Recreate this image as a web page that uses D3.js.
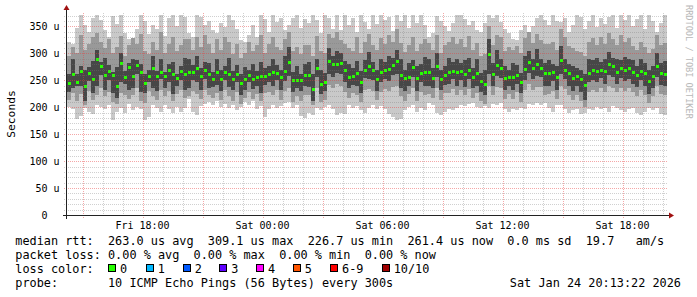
<!DOCTYPE html>
<html><head>
<meta charset="utf-8"/>
<title>SmokePing latency</title>
<script src="https://d3js.org/d3.v7.min.js"></script>
<style>
  body { margin: 0; padding: 0; background: #fff; }
  svg { display: block; font-family: 'DejaVu Sans Mono', monospace; }
  .tick-label { font-size: 10px; fill: #000; }
  .legend { font-size: 11.85px; fill: #000; white-space: pre; }
</style>
</head>
<body>
<div id="chart"></div>
<script>
// time window: 30 hours ending Sat Jan 24 20:13:22, one slot = 12 minutes
const startTime = new Date(2026, 0, 23, 14, 13, 22);
const endTime = new Date(2026, 0, 24, 20, 13, 22);
const slotMinutes = 12;

// median rtt (us)
const median = [
  245,262,247,267,240,263,252,290,276,260,268,259,240,282,256,275,258,279,265,245,258,272,258,265,258,269,262,255,267,262,
  265,266,272,258,270,261,253,266,252,265,262,252,262,245,252,259,253,256,258,258,262,265,264,257,268,284,250,251,250,259,
  259,234,272,243,247,286,281,281,283,270,257,258,264,246,270,277,269,253,265,270,271,278,285,260,254,257,274,254,264,266,
  265,254,276,253,259,266,268,265,268,262,270,256,263,248,244,298,262,279,273,254,257,256,260,246,271,284,273,281,273,264,
  264,265,257,288,269,264,254,258,252,241,264,270,268,270,267,281,277,266,273,270,272,266,260,267,263,249,258,277,264,262
];
// smoke: max / min of the 10 pings
const maxRtt = [
  322,318,348,371,352,340,366,372,362,344,330,370,355,372,338,326,324,346,371,360,336,352,346,372,332,365,371,350,372,368,
  337,330,371,368,352,360,343,338,356,349,371,362,346,325,322,334,352,331,371,364,340,371,358,366,344,352,365,371,348,364,
  356,371,362,338,371,366,346,371,343,372,352,366,340,371,358,345,371,354,371,362,368,342,371,360,371,348,371,356,371,352,
  331,338,370,360,350,342,356,371,372,364,352,360,343,340,356,371,366,372,358,346,338,327,325,344,352,340,350,366,371,362,
  352,371,360,358,366,340,352,371,368,345,360,371,349,366,355,368,371,348,371,362,371,350,364,371,346,371,360,340,356,371
];
const minRtt = [
  201,196,178,184,198,192,188,204,200,196,204,176,192,198,190,206,194,200,196,176,182,204,198,192,204,196,190,200,192,198,
  216,192,186,202,206,210,204,212,200,206,198,204,194,200,210,204,212,196,202,182,196,204,198,202,208,210,198,204,184,180,
  190,186,198,194,200,204,196,186,190,188,204,198,202,194,190,198,204,196,202,196,188,182,176,178,194,200,204,192,198,194,
  207,204,189,186,192,196,194,198,205,202,206,207,200,198,202,199,206,204,207,196,192,196,194,198,196,206,204,208,204,207,
  198,192,204,205,196,190,194,196,188,190,196,194,200,196,198,192,202,198,194,192,196,198,190,186,192,198,194,198,188,186
];
// smoke: middle pings (upper / lower)
const midHi = [
  296,312,300,334,306,318,330,338,322,310,326,300,312,332,296,316,328,318,336,304,298,322,306,340,300,318,330,304,316,326,
  326,306,330,312,334,318,300,326,306,330,322,298,318,292,300,322,304,316,334,300,318,330,312,306,326,340,304,312,298,316,
  316,296,332,304,300,336,328,340,324,318,310,304,330,300,322,336,316,306,328,318,334,322,346,320,302,316,330,304,318,326,
  320,306,334,300,316,322,330,318,326,312,332,306,320,296,298,350,316,334,330,304,312,306,314,300,328,340,320,336,324,318,
  318,322,306,346,330,314,310,304,302,296,322,328,316,330,318,338,326,316,334,322,328,314,306,322,312,300,308,334,316,320
];
const midLo = [
  214,226,212,224,204,230,214,222,236,220,228,210,206,226,222,216,222,236,212,208,230,220,214,232,220,230,212,224,232,218,
  220,230,224,216,232,222,218,226,214,232,220,212,228,206,218,228,216,224,212,226,228,222,232,214,230,236,210,220,212,222,
  222,204,236,210,214,242,236,244,240,228,218,226,222,210,232,234,230,214,228,234,230,238,240,220,212,224,236,212,228,222,
  224,218,236,214,226,226,234,222,232,222,234,218,226,212,206,240,222,238,236,216,224,216,228,210,232,244,232,238,238,222,
  224,230,216,240,234,222,214,222,212,200,228,232,228,236,228,240,236,228,236,230,236,228,220,232,222,208,220,240,224,222
];
// smoke: pings next to the median (upper / lower)
const innerHi = [
  262,290,262,276,270,274,286,306,284,292,278,266,275,300,268,282,290,288,280,262,270,296,268,290,266,280,284,262,276,292,
  290,278,296,272,284,282,266,290,270,276,292,268,278,262,274,270,280,268,284,272,276,290,278,270,296,312,266,276,262,280,
  284,262,290,270,264,310,296,304,300,286,280,272,286,268,288,302,284,270,290,284,296,292,306,290,270,282,288,276,280,294,
  290,272,300,270,276,292,284,290,282,288,292,272,290,264,270,326,282,306,290,276,270,282,278,264,296,304,290,308,290,282,
  288,280,276,314,290,280,276,272,270,262,290,288,292,284,290,302,292,290,288,294,290,288,276,290,282,270,276,300,282,286
];
const innerLo = [
  228,236,240,240,212,248,226,240,260,232,250,226,218,246,244,232,236,262,228,226,246,236,230,252,236,246,224,240,250,232,
  236,250,246,232,252,236,238,242,230,250,238,232,246,222,232,246,234,240,226,242,246,240,250,232,248,258,228,236,230,240,
  238,212,256,224,230,262,256,264,262,246,236,242,240,226,254,252,250,230,246,252,248,260,262,236,230,240,256,230,246,240,
  240,236,256,232,242,244,252,240,250,238,252,236,240,228,222,262,240,258,254,232,240,232,244,226,250,264,252,258,256,240,
  240,248,232,262,252,240,230,240,228,214,246,250,246,254,244,260,256,244,254,248,252,244,238,250,240,224,236,256,242,240
];

const yTicks = [0, 50, 100, 150, 200, 250, 300, 350];
const legendRows = [
  "median rtt:  263.0 us avg  309.1 us max  226.7 us min  261.4 us now  0.0 ms sd  19.7   am/s",
  "packet loss: 0.00 % avg  0.00 % max  0.00 % min  0.00 % now",
  "loss color:",
  "probe:       10 ICMP Echo Pings (56 Bytes) every 300s"
];
const lossLabels = ["0", "1", "2", "3", "4", "5", "6-9", "10/10"];
const lossColors = ["#26ff00", "#00b8ff", "#0059ff", "#5e00ff", "#ff00ff", "#ff5500", "#ff0000", "#a00000"];
const stamp = "Sat Jan 24 20:13:22 2026";

const W = 697, H = 297;
const plot = {left: 67, right: 667, top: 13, bottom: 215};

const svg = d3.select("#chart").append("svg")
  .attr("width", W).attr("height", H);

const x = d3.scaleTime().domain([startTime, endTime]).range([plot.left, plot.right]);
const y = d3.scaleLinear().domain([0, 375]).range([plot.bottom, plot.top]);

const slots = median.map((m, i) => ({
  t0: d3.timeMinute.offset(startTime, i * slotMinutes),
  t1: d3.timeMinute.offset(startTime, (i + 1) * slotMinutes),
  med: m, max: maxRtt[i], min: minRtt[i],
  midHi: midHi[i], midLo: midLo[i], inHi: innerHi[i], inLo: innerLo[i]
}));

// smoke layers, lightest first
const layers = [
  {hi: "max", lo: "min", color: "#c9c9c9"},
  {hi: "midHi", lo: "midLo", color: "#999999"},
  {hi: "inHi", lo: "inLo", color: "#474747"}
];
const smoke = svg.append("g").attr("shape-rendering", "crispEdges");
layers.forEach(l => {
  smoke.selectAll(null).data(slots).enter().append("rect")
    .attr("x", d => x(d.t0))
    .attr("width", d => x(d.t1) - x(d.t0))
    .attr("y", d => y(d[l.hi]))
    .attr("height", d => y(d[l.lo]) - y(d[l.hi]))
    .attr("fill", l.color);
});

// median marks
smoke.selectAll(null).data(slots).enter().append("rect")
  .attr("x", d => x(d.t0) + 0.5)
  .attr("width", 3)
  .attr("y", d => Math.round(y(d.med)) - 1.5)
  .attr("height", 3)
  .attr("fill", lossColors[0]);

// grid (drawn on top, like rrdtool)
const grid = svg.append("g").attr("shape-rendering", "crispEdges");
const minorY = d3.range(0, 376, 10).filter(v => v % 50 !== 0);
grid.selectAll(null).data(minorY).enter().append("line")
  .attr("x1", plot.left - 3).attr("x2", plot.right)
  .attr("y1", d => Math.round(y(d)) + 0.5).attr("y2", d => Math.round(y(d)) + 0.5)
  .attr("stroke", "rgba(120,120,120,0.35)").attr("stroke-dasharray", "1,1");
const hours = d3.timeHour.range(startTime, endTime);
grid.selectAll(null).data(hours.filter(h => h.getHours() % 3 !== 0)).enter().append("line")
  .attr("x1", d => Math.round(x(d)) + 0.5).attr("x2", d => Math.round(x(d)) + 0.5)
  .attr("y1", plot.top).attr("y2", plot.bottom)
  .attr("stroke", "rgba(120,120,120,0.35)").attr("stroke-dasharray", "1,1");
grid.selectAll(null).data(yTicks.slice(1)).enter().append("line")
  .attr("x1", plot.left - 3).attr("x2", plot.right)
  .attr("y1", d => Math.round(y(d)) + 0.5).attr("y2", d => Math.round(y(d)) + 0.5)
  .attr("stroke", "rgba(230,60,60,0.45)").attr("stroke-dasharray", "1,1");
grid.selectAll(null).data(hours.filter(h => h.getHours() % 3 === 0)).enter().append("line")
  .attr("x1", d => Math.round(x(d)) + 0.5).attr("x2", d => Math.round(x(d)) + 0.5)
  .attr("y1", plot.top).attr("y2", plot.bottom + 3)
  .attr("stroke", "rgba(230,60,60,0.45)").attr("stroke-dasharray", "1,1");

// axes lines + arrows
const ax = svg.append("g").attr("shape-rendering", "crispEdges");
ax.append("line").attr("x1", plot.left - 0.5).attr("x2", plot.left - 0.5)
  .attr("y1", plot.bottom + 4).attr("y2", plot.top - 4).attr("stroke", "#222");
ax.append("line").attr("x1", plot.left - 4).attr("x2", plot.right + 5)
  .attr("y1", plot.bottom + 0.5).attr("y2", plot.bottom + 0.5).attr("stroke", "#222");
svg.append("path")
  .attr("d", `M${plot.left - 3.5},${plot.top - 3} L${plot.left - 0.5},${plot.top - 8} L${plot.left + 2.5},${plot.top - 3} Z`)
  .attr("fill", "#a01010");
svg.append("path")
  .attr("d", `M${plot.right + 2},${plot.bottom - 2.5} L${plot.right + 7},${plot.bottom + 0.5} L${plot.right + 2},${plot.bottom + 3.5} Z`)
  .attr("fill", "#a01010");

// y tick labels
svg.selectAll(null).data(yTicks).enter().append("text")
  .attr("class", "tick-label")
  .attr("x", d => d === 0 ? 47.5 : 59.5)
  .attr("y", d => y(d) + 3.5)
  .attr("text-anchor", "end")
  .text(d => d === 0 ? "0" : d + " u");

// x tick labels
const xTicks = hours.filter(h => h.getHours() % 6 === 0);
const fmt = d3.timeFormat("%a %H:%M");
svg.selectAll(null).data(xTicks).enter().append("text")
  .attr("class", "tick-label")
  .attr("x", d => x(d))
  .attr("y", 228.5)
  .attr("text-anchor", "middle")
  .text(d => fmt(d));

// y axis title
svg.append("text")
  .attr("transform", "translate(14.5,114) rotate(-90)")
  .attr("text-anchor", "middle")
  .style("font-size", "11.3px")
  .text("Seconds");

// watermark
svg.append("text")
  .attr("transform", "translate(686,5) rotate(90)")
  .style("font-size", "8.6px")
  .attr("fill", "#b8b8b8")
  .text("RRDTOOL / TOBI OETIKER");

// legend
const rowY = [245, 259, 272.5, 286.5];
legendRows.forEach((t, i) => {
  svg.append("text").attr("class", "legend")
    .attr("x", 15.3).attr("y", rowY[i]).text(t);
});
const boxX = [108, 145.7, 182.7, 219.3, 256, 292.7, 330, 381.7];
lossLabels.forEach((lab, i) => {
  svg.append("rect")
    .attr("x", boxX[i] + 0.5).attr("y", 264.5).attr("width", 7).attr("height", 7)
    .attr("fill", lossColors[i]).attr("stroke", "#000").attr("stroke-width", 1)
    .attr("shape-rendering", "crispEdges");
  svg.append("text").attr("class", "legend")
    .attr("x", boxX[i] + 12).attr("y", rowY[2]).text(lab);
});
svg.append("text").attr("class", "legend")
  .attr("x", 681).attr("y", rowY[3]).attr("text-anchor", "end").text(stamp);
</script>
</body></html>
